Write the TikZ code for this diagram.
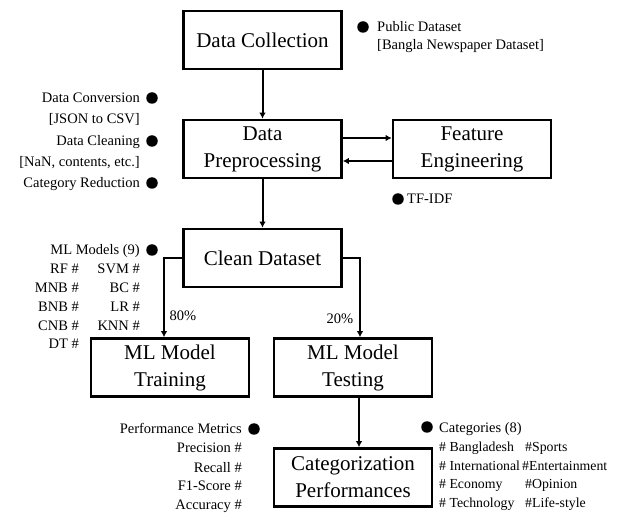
\documentclass[tikz,border=0pt]{standalone}
\usepackage{fontspec}
\setmainfont{Liberation Serif}
\usetikzlibrary{arrows.meta}
\begin{document}
\begin{tikzpicture}[x=1pt,y=-1pt,
  box/.style={draw,line width=2.6pt,minimum width=158pt,minimum height=58pt,inner sep=0pt,align=center,font=\fontsize{21}{27}\selectfont},
  arr/.style={line width=2pt,-{Latex[length=6pt,width=6.5pt]}},
  lab/.style={inner sep=0pt,font=\fontsize{14.5}{17}\selectfont},
  catlab/.style={inner sep=0pt,font=\fontsize{13.8}{17}\selectfont},
  dot/.style={circle,fill=black,minimum size=11.5pt,inner sep=0pt}]
\useasboundingbox (0,0) rectangle (622,513);
% boxes
\node[box] (dc) at (262.5,40) {Data Collection};
\node[box] (dp) at (262.5,149) {Data\\Preprocessing};
\node[box] (fe) at (472,149) {Feature\\Engineering};
\node[box] (cd) at (262.5,258) {Clean Dataset};
\node[box] (tr) at (170,367.5) {ML Model\\Training};
\node[box] (te) at (353,367.5) {ML Model\\Testing};
\node[box] (cp) at (353,477.5) {Categorization\\Performances};
% connectors
\draw[arr] (dc) -- (dp);
\draw[arr] (dp) -- (cd);
\draw[arr] ([yshift=11pt]dp.east) -- ([yshift=11pt]fe.west);
\draw[arr] ([yshift=-12pt]fe.west) -- ([yshift=-12pt]dp.east);
\draw[arr] (cd.west) -| ([xshift=-6pt]tr.north);
\draw[arr] (cd.east) -| ([xshift=7pt]te.north);
\draw[arr] ([xshift=6pt]te.south) -- ([xshift=6pt]cp.north);
\node[lab,anchor=base] (p80) at (183,321) {80\%};
\node[lab,anchor=base] (p20) at (340,324) {20\%};
% public dataset
\node[dot] (d0) at (363,27) {};
\node[lab,anchor=base west] (pd1) at (377,32) {Public Dataset};
\node[lab,anchor=base west] (pd2) at (377,50) {[Bangla Newspaper Dataset]};
% preprocessing notes
\node[dot] (d1) at (152,98) {};
\node[lab,anchor=base east] (l1) at (140,103) {Data Conversion};
\node[lab,anchor=base east] (l2) at (140,124) {[JSON to CSV]};
\node[dot] (d2) at (152,141) {};
\node[lab,anchor=base east] (l3) at (140,146) {Data Cleaning};
\node[lab,anchor=base east] (l4) at (140,167) {[NaN, contents, etc.]};
\node[dot] (d3) at (152,183) {};
\node[lab,anchor=base east] (l5) at (140,188) {Category Reduction};
% TF-IDF
\node[dot] (d4) at (398,199) {};
\node[lab,anchor=base west] (tf) at (407,204) {TF-IDF};
% ML models
\node[dot] (d5) at (152,250) {};
\node[lab,anchor=base east] (mm) at (140,255) {ML Models (9)};
\node[lab,anchor=base east] (m1) at (79,274) {RF \#};
\node[lab,anchor=base east] (m2) at (79,293) {MNB \#};
\node[lab,anchor=base east] (m3) at (79,312) {BNB \#};
\node[lab,anchor=base east] (m4) at (79,331) {CNB \#};
\node[lab,anchor=base east] (m5) at (79,349) {DT \#};
\node[lab,anchor=base east] (m6) at (140,274) {SVM \#};
\node[lab,anchor=base east] (m7) at (140,293) {BC \#};
\node[lab,anchor=base east] (m8) at (140,312) {LR \#};
\node[lab,anchor=base east] (m9) at (140,331) {KNN \#};
% performance metrics
\node[dot] (d6) at (254,429) {};
\node[lab,anchor=base east] (pm) at (242,434) {Performance Metrics};
\node[lab,anchor=base east] (pm1) at (242,453) {Precision \#};
\node[lab,anchor=base east] (pm2) at (242,472) {Recall \#};
\node[lab,anchor=base east] (pm3) at (242,490) {F1-Score \#};
\node[lab,anchor=base east] (pm4) at (242,509) {Accuracy \#};
% categories
\node[dot] (d7) at (427,427) {};
\node[lab,anchor=base west] (ct) at (439,432) {Categories (8)};
\node[catlab,anchor=base west] (c1) at (439,451) {\# Bangladesh};
\node[catlab,anchor=base west] (c2) at (439,470) {\# International};
\node[catlab,anchor=base west] (c3) at (439,488) {\# Economy};
\node[catlab,anchor=base west] (c4) at (439,507) {\# Technology};
\node[catlab,anchor=base west] (c5) at (525,451) {\#Sports};
\node[catlab,anchor=base west] (c6) at (522,470) {\#Entertainment};
\node[catlab,anchor=base west] (c7) at (525,488) {\#Opinion};
\node[catlab,anchor=base west] (c8) at (525,507) {\#Life-style};
\end{tikzpicture}
\end{document}
